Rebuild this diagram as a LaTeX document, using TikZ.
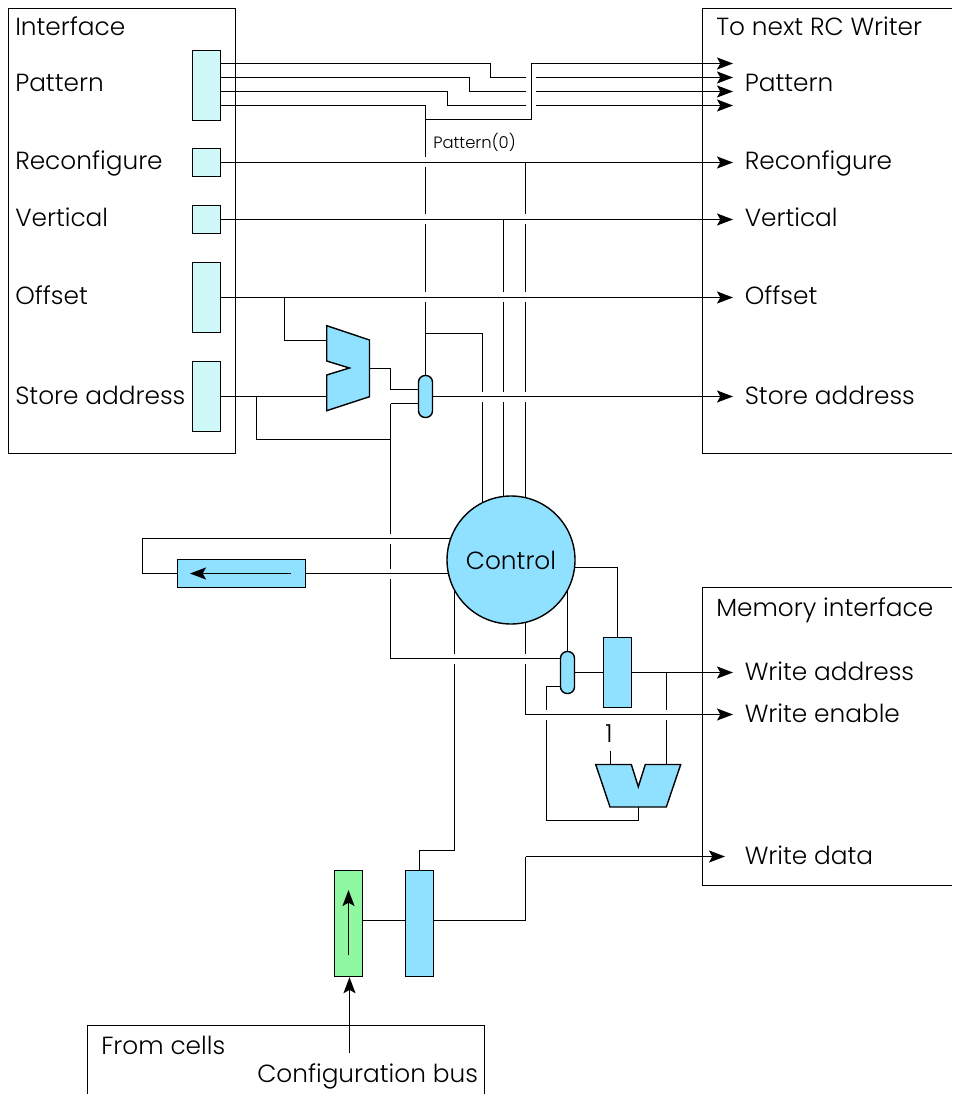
\documentclass[tikz,border=0pt]{standalone}
\usepackage{fontspec}
\setmainfont{Poppins}[UprightFont=* Light]
\definecolor{tint1}{HTML}{CFF9F9}
\definecolor{tint2}{HTML}{90E0FF}
\definecolor{tint3}{HTML}{90F8A0}
\usetikzlibrary{arrows.meta,positioning,calc}
\begin{document}
\begin{tikzpicture}[
  x=0.75pt, y=-0.75pt,
  wire/.style={line width=1.2pt},
  ar/.style={wire, -{Stealth[length=12pt, width=9pt, inset=2.5pt]}},
  frame/.style={line width=1.05pt},
  lab/.style={anchor=base west, inner sep=0pt, font=\fontsize{18.6}{20}\selectfont},
  regbox/.style={draw, line width=1.05pt, inner sep=0pt, fill=#1, minimum width=21pt},
  pill/.style={draw, line width=1.05pt, fill=tint2, rounded corners=5pt, inner sep=0pt,
               minimum width=10.5pt, minimum height=31.5pt},
  muxshape/.style={draw, line width=1.05pt, fill=tint2},
]
  \useasboundingbox (0,0) rectangle (952,1094);

  % ---- frames ----
  \draw[frame] (8.5,8.5) rectangle (235.5,453.5);
  \draw[frame] (952,8.5) -- (702.5,8.5) -- (702.5,453.5) -- (952,453.5);
  \draw[frame] (952,587.5) -- (702.5,587.5) -- (702.5,885.5) -- (952,885.5);
  \draw[frame] (87.5,1094) -- (87.5,1025.5) -- (484.5,1025.5) -- (484.5,1094);

  % ---- registers ----
  \node[regbox=tint1, minimum height=52.5pt] (pat) at (206.5,85.5)  {};
  \node[regbox=tint1, minimum height=21pt]   (rec) at (206.5,162.5) {};
  \node[regbox=tint1, minimum height=21pt]   (ver) at (206.5,219.5) {};
  \node[regbox=tint1, minimum height=52.5pt] (off) at (206.5,297.5) {};
  \node[regbox=tint1, minimum height=52.5pt] (sto) at (206.5,396.5) {};
  \node[regbox=tint2, minimum width=96pt, minimum height=21pt] (shf) at (241.5,573.5) {};
  \node[regbox=tint2, minimum height=52.5pt] (adr) at (617.5,672.5) {};
  \node[regbox=tint3, minimum height=79.5pt] (cfg) at (348.5,923.5) {};
  \node[regbox=tint2, minimum height=79.5pt] (dat) at (419.5,923.5) {};
  \node[draw, circle, line width=1.05pt, fill=tint2, inner sep=0pt, minimum size=96pt,
        font=\fontsize{18.6}{20}\selectfont] (ctl) at (511,560) {Control};
  \node[pill] (mrga) at (425.5,396.5) {};
  \node[pill] (mrgb) at (567.5,672.5) {};

  % ---- mux pins ----
  \coordinate (muxaa) at (326.7,340.5);
  \coordinate (muxab) at (326.7,396.5);
  \coordinate (muxao) at (369.5,368.5);
  \coordinate (muxba) at (610.5,764.5);
  \coordinate (muxbb) at (666.5,764.5);
  \coordinate (muxbo) at (638.5,807);

  % ---- junctions ----
  \coordinate (tip)  at (733,0);
  \coordinate (jpat) at (425.5,105.5);
  \coordinate (jrec) at (525.5,162.5);
  \coordinate (jver) at (503.5,219.5);
  \coordinate (joff) at (284.5,297.5);
  \coordinate (jsto) at (256.5,396.5);
  \coordinate (jsel) at (425.5,333.5);
  \coordinate (jsec) at (482.5,333.5);
  \coordinate (jbak) at (390.5,439.5);
  \coordinate (jadr) at (666.5,672.5);
  \coordinate (jcfg) at (380,920.5);
  \coordinate (jsin) at (390.5,403.5);
  \coordinate (jmem) at (390.5,658.5);
  \coordinate (jwen) at (525.5,714.5);
  \coordinate (jret) at (546.5,686.5);
  \coordinate (jwda) at (525.5,856.5);
  \coordinate (jlop) at (142.5,538.5);
  \coordinate (jact) at (617.5,567.5);
  \coordinate (jdat) at (454.5,850.5);

  % ---- pattern bundle: straight wires ----
  \coordinate (p0) at (733,63.5);
  \coordinate (p1) at (733,77.5);
  \coordinate (p2) at (733,91.5);
  \coordinate (p3) at (733,105.5);
  \draw[ar] (pat.east |- p0) -- (490.5,63.5) -- (490.5,77.5) -- (p1);
  \draw[ar] (pat.east |- p1) -- (469.5,77.5) -- (469.5,91.5) -- (p2);
  \draw[ar] (pat.east |- p2) -- (447.5,91.5) -- (447.5,105.5) -- (p3);

  % ---- verticals that get broken ----
  \draw[wire] (pat.east |- p3) -- (jpat) -- (mrga.north);
  \draw[wire] (jsel) -- (jsec) -- (jsec |- ctl.116);
  \draw[wire] (jver) -- (jver |- ctl.97);
  \draw[wire] (jrec) -- (jrec |- ctl.77);
  \draw[wire] (jsin) -- (jbak) -- (jmem);
  \draw[wire] (jdat |- ctl.208) -- (jdat) -- (dat.north |- jdat) -- (dat.north);
  \draw[wire] (jwen |- ctl.283) -- (jwen);
  \draw[wire] (mrgb.west |- jret) -- (jret) -- (546.5,820.5) -- (638.5,820.5) -- (muxbo);
  \draw[wire] (jadr) -- (muxbb);

  % ---- breaks where a wire passes ----
  \foreach \cx/\cy in {425.5/162.5, 425.5/219.5, 425.5/297.5, 503.5/297.5, 525.5/219.5, 525.5/297.5,
                       482.5/396.5, 503.5/396.5, 525.5/396.5,
                       390.5/538.5, 390.5/573.5, 454.5/658.5, 525.5/658.5, 546.5/714.5, 666.5/714.5} {
    \draw[white, line width=2.5pt] (\cx,\cy-5) -- (\cx,\cy+5);
  }
  \foreach \cy in {77.5,91.5,105.5} {
    \draw[white, line width=2.5pt] (526,\cy) -- (536,\cy);
  }

  % ---- wires on top ----
  \draw[ar] (425.5,119.5) -- (531.5,119.5) -- (531.5,63.5) -- (p0);
  \draw[ar] (rec.east) -- (rec.east -| tip);
  \draw[ar] (ver.east) -- (ver.east -| tip);
  \draw[ar] (off.east) -- (off.east -| tip);
  \draw[ar] (mrga.east) -- (mrga.east -| tip);
  \draw[wire] (jmem) -- (mrgb.west |- jmem);
  \draw[ar] (jwen) -- (jwen -| tip);
  \draw[wire] (sto.east) -- (muxab);
  \draw[wire] (joff) |- (muxaa);
  \draw[wire] (jsto) |- (jbak);
  \draw[wire] (muxao) -- (390.5,368.5) -- (390.5,389.5) -- (mrga.west |- 0,389.5);
  \draw[wire] (jsin) -- (mrga.west |- jsin);
  \draw[wire] (jlop -| ctl.160) -- (jlop) -- (jlop |- shf.west) -- (shf.west);
  \draw[wire] (shf.east) -- (shf.east -| ctl.192);
  \draw[ar] (291,573.5) -- (190,573.5);
  \draw[wire] (jact -| ctl.353) -- (jact) -- (adr.north);
  \draw[wire] (mrgb.north |- ctl.332) -- (mrgb.north);
  \draw[wire] (mrgb.east) -- (adr.west);
  \draw[ar] (adr.east) -- (adr.east -| tip);
  \draw[wire] (cfg.east |- jcfg) -- (dat.west |- jcfg);
  \draw[wire] (dat.east |- jcfg) -- (jwda |- jcfg) -- (jwda);
  \draw[ar] (jwda) -- (725,856.5);
  \draw[ar] (348.5,955) -- (348.5,890);

  % ---- mux bodies ----
  \draw[muxshape] (326.7,325.7) -- (369.5,340) -- (369.5,396.7) -- (326.7,410.7) -- (326.7,375)
    -- (349.3,368) -- (326.7,361) -- cycle;
  \draw[muxshape] (595.7,764.5) -- (631.3,764.5) -- (638.3,786.7) -- (645.3,764.5)
    -- (680.7,764.5) -- (666.3,807) -- (610,807) -- cycle;

  % ---- texts ----
  \node[lab] (tif)  at (15,36)   {Interface};
  \node[lab] (tpi)  at (15,92)   {Pattern};
  \node[lab] (tri)  at (15,170)  {Reconfigure};
  \node[lab] (tvi)  at (15,227)  {Vertical};
  \node[lab] (toi)  at (15,305)  {Offset};
  \node[lab] (tsi)  at (15,404)  {Store address};
  \node[lab] (tnx)  at (716,36)  {To next RC Writer};
  \node[lab] (tpo)  at (744.5,92)  {Pattern};
  \node[lab] (tro)  at (744.5,170) {Reconfigure};
  \node[lab] (tvo)  at (744.5,227) {Vertical};
  \node[lab] (too)  at (744.5,305) {Offset};
  \node[lab] (tso)  at (744.5,404) {Store address};
  \node[lab] (tmi)  at (716,616) {Memory interface};
  \node[lab] (twa)  at (744.5,680) {Write address};
  \node[lab] (twe)  at (744.5,722) {Write enable};
  \node[lab] (twd)  at (744.5,864) {Write data};
  \node[lab] (tfc)  at (101,1054) {From cells};
  \node[lab] (tcb)  at (257,1082) {Configuration bus};
  \node[lab, font=\fontsize{12.3}{14}\selectfont] (tp0) at (433,149) {Pattern(0)};
  \node[lab] (one)  at (605,742) {1};
  \draw[wire] (muxba |- 0,750.7) -- (muxba);
  \draw[ar] (349.5,1053) -- (cfg.south -| 349.5,0);
\end{tikzpicture}
\end{document}
